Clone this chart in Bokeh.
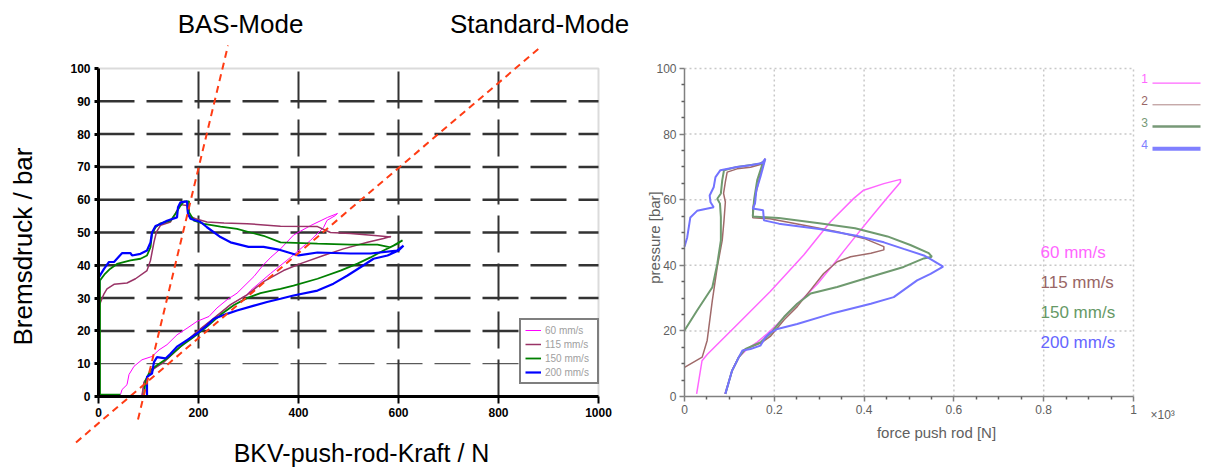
from bokeh.plotting import figure
from bokeh.layouts import row
from bokeh.models import Range1d, FixedTicker, Label, Legend, LegendItem, BoxAnnotation, ColumnDataSource
from bokeh.core.properties import value
from bokeh.embed import file_html
from bokeh.resources import INLINE

# ------------------------------------------------------------------ data (left chart)
SPEED_LABELS = ["60 mm/s", "115 mm/s", "150 mm/s", "200 mm/s"]

L60_X = [44, 47, 57, 61, 71, 87, 107, 121, 137, 157, 177, 197, 221, 237, 257, 277, 291, 311, 329, 345,
         364, 390, 424, 458, 478, 474, 457, 450, 424, 384, 344, 304, 297, 264, 231, 197, 164, 131, 111, 101,
         91, 87]
L60_Y = [0.6, 2.1, 3.6, 6.7, 9.2, 11.2, 12.2, 14.2, 15.8, 18.8, 20.8, 22.9, 24.4, 27, 29.5, 31.5, 33.6, 36.6, 40, 42.5,
         45, 49.2, 52.1, 54.6, 55.8, 55.2, 53.7, 51.5, 47.6, 42.4, 37.5, 32.3, 31, 28, 23.9, 19.8, 15.2, 10.5, 8.5, 6.5,
         4.4, 0.3]

L115_X = [87, 91, 101, 111, 131, 164, 197, 231, 264, 297, 331, 370, 404, 450, 490, 538, 570, 584, 584, 558,
          504, 464, 438, 364, 297, 251, 217, 194, 179, 177, 164, 157, 144, 124, 116, 111, 104, 97, 74, 57,
          31, 17, 11, 2, 2]
L115_Y = [0.3, 4.4, 6.5, 8.5, 10.5, 15.2, 19.8, 23.9, 28, 31, 35.1, 38.4, 40.5, 43, 45, 47, 48.2, 48.8, 48.6, 49,
          49.7, 50, 51.8, 51.9, 52.7, 52.9, 53.2, 54.2, 55.2, 58.2, 58.5, 56.7, 53.2, 52.2, 50.2, 47.1, 41.5, 38.4, 35.9, 34.6,
          34.2, 32.8, 31.3, 28, 0.3]

L150_X = [91, 94, 104, 117, 137, 164, 191, 217, 244, 271, 297, 324, 351, 364, 390, 438, 484, 518, 544, 570,
          590, 608, 598, 584, 558, 504, 438, 364, 330, 304, 277, 244, 211, 191, 181, 181, 171, 164, 154, 144,
          124, 114, 107, 104, 97, 84, 64, 37, 23, 13, 3, 3, 44]
L150_Y = [0.3, 4.9, 8, 9.5, 11.6, 15.2, 18.2, 21.3, 24.9, 27.9, 30, 31.5, 32.4, 32.8, 33.8, 35.9, 38.4, 40.5, 42.4, 44.5,
          46, 47.6, 46.6, 45.5, 46.3, 46.3, 46.6, 47, 49, 50, 51.1, 51.8, 52.6, 53.6, 56.2, 59.5, 59.5, 58.2, 55.7, 53.6,
          52.8, 51.6, 49.6, 45.5, 43, 42, 41.5, 40.4, 38.9, 37.4, 35.4, 0.6, 0.6]

L200_X = [97, 97, 107, 111, 117, 134, 144, 157, 177, 197, 217, 231, 257, 277, 311, 337, 364, 390, 438, 470,
          498, 524, 550, 578, 600, 610, 597, 544, 504, 438, 400, 360, 330, 300, 264, 244, 217, 204, 184, 179,
          177, 164, 159, 157, 137, 124, 114, 107, 104, 97, 84, 67, 64, 47, 31, 21, 11, 1, 0]
L200_Y = [0.3, 6, 7, 10.5, 12, 11.6, 13, 15.2, 17.2, 19.2, 21.7, 23.7, 25.2, 26.2, 27.7, 28.8, 29.8, 30.8, 32.3, 34.4,
          36.9, 39.4, 42, 43, 44.5, 46, 44.5, 43.6, 43.6, 43.9, 43, 44.8, 45.6, 45.6, 47, 48.6, 51.6, 53.2, 54.2, 55.7,
          59.5, 59.2, 57.7, 54.6, 53.6, 52.6, 52, 50, 47, 44.5, 43.5, 43, 43.7, 43.7, 41, 41, 38.9, 36.4, 0.3]

BAS_X = [79, 259]
BAS_Y = [-7, 107]
STD_X = [-45, 880]
STD_Y = [-14, 106]

L_X_TICKS = [0, 200, 400, 600, 800, 1000]
L_X_LABELS = ["0", "200", "400", "600", "800", "1000"]
L_Y_TICKS = [0, 10, 20, 30, 40, 50, 60, 70, 80, 90, 100]
L_GRID_X = [200, 400, 600, 800]
L_GRID_Y_THICK = [20, 30, 40, 50, 60, 70, 80, 90]
L_GRID_Y_THIN = [10]

# ------------------------------------------------------------------ data (right chart)
R60_X = [0.027, 0.039, 0.051, 0.117, 0.191, 0.266, 0.325, 0.377, 0.399, 0.444,
         0.481, 0.481, 0.452, 0.415, 0.385, 0.355, 0.326, 0.296, 0.266, 0.236,
         0.207, 0.184, 0.162, 0.14, 0.121, 0.106, 0.095, 0.09]
R60_Y = [0.8, 10.9, 12.9, 21.9, 32, 43.2, 53.3, 60.4, 62.9, 64.9,
         66.2, 65.3, 60.7, 54.6, 49.5, 44.4, 39.3, 34.3, 30.2, 26.2,
         22.1, 19.1, 16.6, 14.5, 12, 7.9, 2.8, 0.8]

R115_X = [0.091, 0.106, 0.121, 0.132, 0.17, 0.191, 0.222, 0.251, 0.281, 0.31, 0.34, 0.37, 0.415, 0.444, 0.444,
          0.4, 0.34, 0.266, 0.19, 0.152, 0.152, 0.16, 0.168, 0.18, 0.173, 0.147, 0.117, 0.095, 0.091, 0.087,
          0.091, 0.088, 0.084, 0.073, 0.062, 0.0505, 0.0394, 0.0]
R115_Y = [0.8, 7.9, 12, 14.2, 16.3, 18.3, 23.4, 27.4, 32.5, 37.5, 41.1, 42.6, 43.7, 44.7, 45.7,
          48.2, 50.2, 52.2, 54.2, 54.5, 57.3, 62.4, 67.4, 72.5, 70.9, 69.9, 69.4, 68.4, 65.4, 61.9,
          59.3, 53.7, 47.6, 39.5, 29.3, 17.1, 12, 8.9]

R150_X = [0.091, 0.106, 0.121, 0.136, 0.17, 0.191, 0.222, 0.251, 0.281, 0.34, 0.415, 0.488, 0.533, 0.551, 0.544,
          0.503, 0.452, 0.38, 0.3, 0.21, 0.152, 0.155, 0.162, 0.175, 0.168, 0.117, 0.088, 0.084, 0.081, 0.073,
          0.079, 0.081, 0.081, 0.073, 0.062, 0.028, 0.0]
R150_Y = [0.8, 7.9, 12, 14.5, 16.6, 19.1, 24.3, 28.3, 31.4, 33.4, 36.5, 39.5, 42.1, 42.6, 43.7,
          46.2, 48.8, 51.3, 52.8, 54.4, 54.9, 60, 66, 71.5, 71, 70, 69, 65.9, 61.9, 60.3,
          58.8, 54.7, 47.6, 40.4, 33.3, 26.2, 20.1]

R200_X = [0.091, 0.106, 0.121, 0.129, 0.147, 0.169, 0.18, 0.191, 0.207, 0.251, 0.326, 0.415, 0.466, 0.518, 0.548,
          0.576, 0.548, 0.533, 0.488, 0.444, 0.38, 0.3, 0.21, 0.177, 0.175, 0.152, 0.157, 0.16, 0.169, 0.177,
          0.18, 0.173, 0.147, 0.117, 0.08, 0.069, 0.065, 0.056, 0.058, 0.065, 0.028, 0.013, 0.006, 0.0]
R200_Y = [0.8, 7.9, 12, 14, 14.5, 15.5, 18, 19.5, 20.6, 22.1, 25.2, 28.3, 30.3, 35.4, 37.4,
          39.6, 41.9, 43, 45, 47, 49.1, 51.1, 52.7, 53.7, 56.8, 57.3, 58.8, 62.9, 66.9, 71,
          72.5, 71.2, 70.5, 70, 69, 66.9, 63.8, 61.3, 59.2, 57.7, 56.6, 54.6, 48.5, 45.7]

R_X_TICKS = [0, 0.2, 0.4, 0.6, 0.8, 1.0]
R_X_LABELS = ["0", "0.2", "0.4", "0.6", "0.8", "1"]
R_Y_TICKS = [0, 20, 40, 60, 80, 100]
R_GRID_X = [0.2, 0.4, 0.6, 0.8, 1.0]
R_GRID_Y = [20, 40, 60, 80, 100]
R_KEYS = ["1", "2", "3", "4"]

# ------------------------------------------------------------------ layout geometry (page pixels)
OFF = 0
FIG_H = 471
L_W = 640
R_W = 563
Y_PX0, Y_PX100 = 396, 68           # pixel rows of y = 0 and y = 100 (both panels)
LX_PX0, LX_PX1000 = 98, 598       # left panel x = 0 / 1000
RX_PX0, RX_PX1 = 684, 1133        # right panel x = 0 / 1


def ly(py):
    return (Y_PX0 - py) * 100.0 / (Y_PX0 - Y_PX100)


def lx(px):
    return (px - LX_PX0) * 1000.0 / (LX_PX1000 - LX_PX0)


def rx(px):
    return (px - RX_PX0) * 1.0 / (RX_PX1 - RX_PX0)


Y_RANGE = (ly(OFF + FIG_H), ly(OFF))

# ------------------------------------------------------------------ left figure
p1 = figure(width=L_W, height=FIG_H, x_range=Range1d(lx(OFF), lx(OFF + L_W)),
            y_range=Range1d(*Y_RANGE), output_backend="svg", toolbar_location=None,
            min_border=0, outline_line_color=None,
            background_fill_color="white", border_fill_color="white")
p1.xgrid.visible = False
p1.ygrid.visible = False

xa = p1.xaxis[0]
xa.fixed_location = 0
xa.bounds = (0, 1000)
xa.ticker = FixedTicker(ticks=L_X_TICKS)
xa.major_label_overrides = dict(zip(L_X_TICKS, L_X_LABELS))
xa.axis_line_width = 3
xa.axis_line_color = "black"
xa.major_tick_line_width = 2
xa.major_tick_line_color = "black"
xa.major_tick_out = 7
xa.major_tick_in = 0
xa.minor_tick_out = 0
xa.minor_tick_in = 0
xa.major_label_standoff = 4
xa.major_label_text_font = "Liberation Sans"
xa.major_label_text_font_size = "12px"
xa.major_label_text_font_style = "bold"
xa.major_label_text_color = "black"

ya = p1.yaxis[0]
ya.fixed_location = 0
ya.bounds = (0, 100)
ya.ticker = FixedTicker(ticks=L_Y_TICKS)
ya.axis_line_width = 3
ya.axis_line_color = "black"
ya.major_tick_line_width = 3
ya.major_tick_line_color = "black"
ya.major_tick_out = 4
ya.major_tick_in = 0
ya.minor_tick_out = 0
ya.minor_tick_in = 0
ya.major_label_standoff = 4
ya.major_label_text_font = "Liberation Sans"
ya.major_label_text_font_size = "12px"
ya.major_label_text_font_style = "bold"
ya.major_label_text_color = "black"

p1.add_layout(BoxAnnotation(left=0, right=1000, bottom=0, top=100, fill_color=None,
                            line_color="#888888", line_width=2, level="underlay"))

p1.segment(x0=0, x1=1000, y0=L_GRID_Y_THICK, y1=L_GRID_Y_THICK, line_color="#333333",
           line_width=2.5, line_dash="36 12")
p1.segment(x0=0, x1=1000, y0=L_GRID_Y_THIN, y1=L_GRID_Y_THIN, line_color="#333333",
           line_width=1, line_dash="36 12")
p1.segment(x0=L_GRID_X, x1=L_GRID_X, y0=0, y1=100, line_color="#333333",
           line_width=2, line_dash="37 11")

r1 = p1.line(L60_X, L60_Y, line_color="#ff00ff", line_width=1)
r2 = p1.line(L115_X, L115_Y, line_color="#993366", line_width=1.5)
r3 = p1.line(L150_X, L150_Y, line_color="#008000", line_width=1.8)
r4 = p1.line(L200_X, L200_Y, line_color="#0000ff", line_width=2.2)

p1.line(BAS_X, BAS_Y, line_color="#ff3c14", line_width=2, line_dash="7 5")
p1.line(STD_X, STD_Y, line_color="#ff3c14", line_width=2, line_dash="7 5")

leg = Legend(items=[LegendItem(label=lab, renderers=[r]) for lab, r in zip(SPEED_LABELS, [r1, r2, r3, r4])],
             location=(519 - OFF, OFF + FIG_H - 384), border_line_color="black", border_line_width=2,
             background_fill_color="white", background_fill_alpha=1.0,
             label_text_font="Liberation Sans", label_text_font_size="10px", label_text_color="#a0a0a0",
             glyph_width=16, glyph_height=12, label_height=12, label_width=48, spacing=2,
             padding=4, margin=0, label_standoff=4)
p1.add_layout(leg)

p1.add_layout(Label(x=lx(240), y=ly(23), text="BAS-Mode", text_align="center", text_baseline="middle",
                    text_font="Liberation Sans", text_font_size="26px", text_color="black"))
p1.add_layout(Label(x=lx(539), y=ly(23), text="Standard-Mode", text_align="center", text_baseline="middle",
                    text_font="Liberation Sans", text_font_size="26px", text_color="black"))
p1.add_layout(Label(x=lx(361), y=ly(452), text="BKV-push-rod-Kraft / N", text_align="center",
                    text_baseline="middle", text_font="Liberation Sans", text_font_size="25px",
                    text_color="black"))
p1.add_layout(Label(x=lx(22), y=ly(246), text="Bremsdruck / bar", text_align="center", text_baseline="middle",
                    angle=90, angle_units="deg", text_font="Liberation Sans", text_font_size="26px",
                    text_color="black"))

# ------------------------------------------------------------------ right figure
p2 = figure(width=R_W, height=FIG_H, x_range=Range1d(rx(OFF + L_W), rx(OFF + L_W + R_W)),
            y_range=Range1d(*Y_RANGE), output_backend="svg", toolbar_location=None,
            min_border=0, outline_line_color=None,
            background_fill_color="white", border_fill_color="white")
p2.xgrid.visible = False
p2.ygrid.visible = False

GRAY = "#808080"
xb = p2.xaxis[0]
xb.fixed_location = 0
xb.bounds = (0, 1)
xb.ticker = FixedTicker(ticks=R_X_TICKS, minor_ticks=[i * 0.05 for i in range(21) if i % 4])
xb.major_label_overrides = dict(zip(R_X_TICKS, R_X_LABELS))
yb = p2.yaxis[0]
yb.fixed_location = 0
yb.bounds = (0, 100)
yb.ticker = FixedTicker(ticks=R_Y_TICKS, minor_ticks=[i * 5 for i in range(21) if i % 4])
for ax in (xb, yb):
    ax.axis_line_color = GRAY
    ax.axis_line_width = 1.5
    ax.major_tick_line_color = GRAY
    ax.minor_tick_line_color = "#606060"
    ax.major_tick_line_width = 1.5
    ax.minor_tick_line_width = 1.5
    ax.major_tick_out = 5
    ax.major_tick_in = 0
    ax.minor_tick_out = 3
    ax.minor_tick_in = 0
    ax.major_label_standoff = 3
    ax.major_label_text_font = "Liberation Sans"
    ax.major_label_text_font_size = "12px"
    ax.major_label_text_color = "#606060"

p2.segment(x0=R_GRID_X, x1=R_GRID_X, y0=0, y1=100, line_color="#c8c8c8", line_width=1.5, line_dash="2 3")
p2.segment(x0=0, x1=1, y0=R_GRID_Y, y1=R_GRID_Y, line_color="#c8c8c8", line_width=1.5, line_dash="2 3")

R_COLORS = ["#ff66ff", "#a06a6a", "#6f9a6f", "#7373ff"]
R_WIDTHS = [1.5, 1.5, 2, 2]
for xs, ys, c, w in zip([R60_X, R115_X, R150_X, R200_X], [R60_Y, R115_Y, R150_Y, R200_Y], R_COLORS, R_WIDTHS):
    p2.line(xs, ys, line_color=c, line_width=w)

# speed annotations
p2.text(x=[rx(1040)] * 4, y=[ly(251.7), ly(281.7), ly(311.7), ly(341.7)], text=SPEED_LABELS,
        text_color=["#ff66ff", "#996666", "#669966", "#6666ff"], text_font=value("Liberation Sans"),
        text_font_size="17px", text_align="left", text_baseline="middle")

# key on the right
key_y = [ly(82.7), ly(104.3), ly(126), ly(148.3)]
key_src = ColumnDataSource(dict(x0=[rx(1152)] * 4, x1=[rx(1200)] * 4, y=key_y,
                                tx=[rx(1144)] * 4, lab=R_KEYS,
                                col=["#ff66ff", "#996666", "#779977", "#8080ff"], w=[1.3, 0.8, 2.7, 4]))
p2.segment(x0="x0", x1="x1", y0="y", y1="y", line_color="col", line_width="w", source=key_src)
p2.text(x="tx", y="y", text="lab", text_color="col", text_font=value("Liberation Sans"),
        text_font_size="12px", text_align="center", text_baseline="bottom", source=key_src)

p2.add_layout(Label(x=rx(936), y=ly(432), text="force push rod [N]", text_align="center", text_baseline="middle",
                    text_font="Liberation Sans", text_font_size="15px", text_color="#606060"))
p2.add_layout(Label(x=rx(654), y=ly(237), text="pressure [bar]", text_align="center", text_baseline="middle",
                    angle=90, angle_units="deg", text_font="Liberation Sans", text_font_size="15px",
                    text_color="#606060"))
p2.add_layout(Label(x=rx(1150), y=ly(414), text="×10³", text_align="left", text_baseline="middle",
                    text_font="Liberation Sans", text_font_size="12px", text_color="#606060"))

layout = row(p1, p2)
open("out.html", "w").write(file_html(layout, INLINE))
